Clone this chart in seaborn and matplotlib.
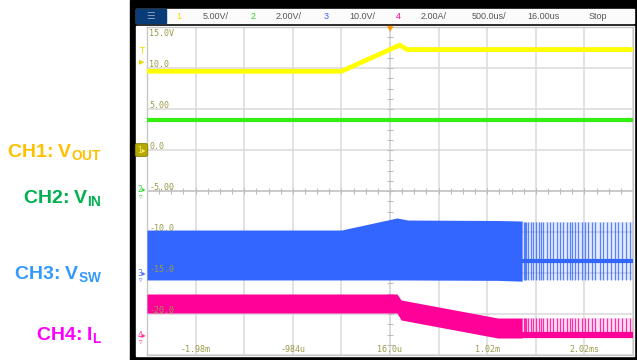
import matplotlib
matplotlib.use("Agg")
import matplotlib.pyplot as plt
from matplotlib.patches import Rectangle
import seaborn as sns

# ---------------- scope screen values (read off the capture) ----------------
# time axis in ms, vertical axis in CH1 volts (5 V/div, 8 divisions)
x_left_ms = -2.484
ms_per_div = 0.5
y_bottom = -25.0
v_per_div = 5.0

# CH1 Vout
vout_t = [-2.484, -0.484, 0.118, 0.19, 2.516]
vout_v = [9.6, 9.6, 12.8, 12.25, 12.25]

# CH2 Vin
vin_t = [-2.484, 2.516]
vin_v = [3.66, 3.66]

# CH3 Vsw envelope while switching continuously
vsw_t = [-2.484, -0.484, 0.088, 0.20, 1.126, 1.375]
vsw_top = [-9.76, -9.76, -8.29, -8.54, -8.60, -8.66]
vsw_bot = [-15.85, -15.85, -15.85, -15.85, -15.90, -16.0]

# CH4 IL envelope
il_t = [-2.484, 0.088, 0.13, 1.126, 1.375]
il_top = [-17.56, -17.56, -18.29, -20.49, -20.49]
il_bot = [-19.88, -19.88, -20.73, -22.93, -22.93]

# pulse-skipping burst after 1.375 ms
burst_start = 1.375
burst_t = [1.39, 1.40, 1.42, 1.44, 1.47, 1.49, 1.52, 1.55, 1.57, 1.59, 1.63,
           1.66, 1.69, 1.73, 1.77, 1.80, 1.84, 1.87, 1.89, 1.92, 1.95, 1.99,
           2.02, 2.05, 2.09, 2.13, 2.18, 2.21, 2.25, 2.29, 2.33, 2.36, 2.40,
           2.44, 2.48]
vsw_idle = -13.55
vsw_hi, vsw_lo = -8.78, -15.85
il_idle = -22.6
il_hi = -20.49

# grid labels
ylabel_vals = [15, 10, 5, 0, -5, -10, -15, -20]
ylabel_txt = ["15.0V", "10.0", "5.00", "0.0", "-5.00", "-10.0", "-15.0", "-20.0"]
tlabel_vals = [-1.984, -0.984, 0.016, 1.016, 2.016]
tlabel_txt = ["-1.98m", "-984u", "16.0u", "1.02m", "2.02ms"]

# status bar
bar_items = [("1", 179, "#e8e000"), ("5.00V/", 216, "#555555"),
             ("2", 253, "#33cc33"), ("2.00V/", 289, "#555555"),
             ("3", 326, "#3366ff"), ("10.0V/", 362, "#555555"),
             ("4", 398, "#ff0099"), ("2.00A/", 434, "#555555"),
             ("500.0us/", 489, "#555555"), ("16.00us", 543, "#555555"),
             ("Stop", 598, "#555555")]

# channel captions on the left
captions = [("CH1: V$_{\\mathrm{OUT}}$", 157, "#ffc000"),
            ("CH2: V$_{\\mathrm{IN}}$", 203, "#00b050"),
            ("CH3: V$_{\\mathrm{SW}}$", 279, "#3399ff"),
            ("CH4: I$_{\\mathrm{L}}$", 340, "#ff00ff")]

C_YEL, C_GRN, C_BLU, C_MAG = "#ffff00", "#33ee11", "#3366ff", "#ff0099"
C_OLIVE = "#9a9a48"

sns.set_style("white")
plt.rcParams["font.family"] = ["Liberation Sans", "DejaVu Sans"]
plt.rcParams["mathtext.fontset"] = "custom"
plt.rcParams["mathtext.rm"] = "Liberation Sans:bold"
plt.rcParams["mathtext.it"] = "Liberation Sans:bold"
plt.rcParams["mathtext.bf"] = "Liberation Sans:bold"

W, H = 637, 360
fig = plt.figure(figsize=(W / 100, H / 100), dpi=100, facecolor="white")


def fx(px):
    return px / W


def fy(py):
    return 1 - py / H


def rect(x0, y0, x1, y1, color, z):
    fig.patches.append(Rectangle((fx(x0), fy(y1)), fx(x1) - fx(x0), fy(y0) - fy(y1),
                                 transform=fig.transFigure, color=color, zorder=z))


# scope frame
rect(130, 0, 637, 360, "black", -5)
rect(136, 9, 634, 23, "#fbfbfb", -4)
rect(136, 26, 634, 356, "white", -4)
rect(136, 9, 166, 23, "#0a3d78", -3)
fig.text(fx(151), fy(16), "\u2630", color="#7f9cc0", fontsize=7, ha="center", va="center",
         family="DejaVu Sans")
for txt, px, col in bar_items:
    fig.text(fx(px), fy(16.5), txt, color=col, fontsize=6.5, ha="center", va="center")

ax = fig.add_axes([fx(147), fy(355), fx(633) - fx(147), fy(27) - fy(355)])
x_right = x_left_ms + 10 * ms_per_div
ax.set_xlim(x_left_ms, x_right)
ax.set_ylim(y_bottom, y_bottom + 8 * v_per_div)
ax.set_xticks([x_left_ms + k * ms_per_div for k in range(11)])
ax.set_yticks([y_bottom + k * v_per_div for k in range(9)])
ax.tick_params(length=0, labelbottom=False, labelleft=False)
ax.grid(True, color="#dadada", lw=1.1)
for s in ax.spines.values():
    s.set_color("#c8c8c8")
    s.set_linewidth(1.0)

# centre cross with minor ticks
xc = x_left_ms + 5 * ms_per_div
ax.axhline(-5, color="#c4c4c4", lw=1.1, zorder=1)
ax.axvline(xc, color="#dadada", lw=1.1, zorder=1)
minor_x = [x_left_ms + k * ms_per_div / 4 for k in range(41)]
minor_y = [y_bottom + k * v_per_div / 4 for k in range(33)]
ax.plot(minor_x, [-5] * len(minor_x), ls="none", marker="|", ms=4, mew=0.8, color="#bdbdbd", zorder=1)
ax.plot([xc] * len(minor_y), minor_y, ls="none", marker="_", ms=4, mew=0.8, color="#bdbdbd", zorder=1)

# CH3 switch node
ax.fill_between(vsw_t, vsw_bot, vsw_top, color=C_BLU, lw=0, zorder=3)
ax.fill_between([burst_start, x_right], vsw_lo, vsw_hi, color=C_BLU, alpha=0.12, lw=0, zorder=3)
ax.vlines(burst_t, vsw_lo, vsw_hi, color=C_BLU, lw=0.9, alpha=0.8, zorder=3)
sns.lineplot(x=[burst_start, x_right], y=[vsw_idle, vsw_idle], color=C_BLU, lw=3.0, ax=ax, zorder=3)

# CH4 inductor current
ax.fill_between(il_t, il_bot, il_top, color=C_MAG, lw=0, zorder=3)
ax.fill_between([burst_start, x_right], il_idle, il_hi, color=C_MAG, alpha=0.12, lw=0, zorder=3)
ax.vlines(burst_t, il_idle, il_hi, color=C_MAG, lw=0.9, alpha=0.8, zorder=3)
sns.lineplot(x=[burst_start, x_right], y=[il_idle, il_idle], color=C_MAG, lw=4.5, ax=ax, zorder=3)

# CH1 / CH2
sns.lineplot(x=vin_t, y=vin_v, color=C_GRN, lw=3.0, ax=ax, zorder=4)
sns.lineplot(x=vout_t, y=vout_v, color=C_YEL, lw=3.4, ax=ax, zorder=4)
ax.set_xlabel("")
ax.set_ylabel("")

# graticule labels
mono = "DejaVu Sans Mono"
for v, t in zip(ylabel_vals, ylabel_txt):
    if v == 15:
        ax.annotate(t, (x_left_ms, v), xytext=(1.5, -1.5), textcoords="offset points",
                    ha="left", va="top", fontsize=6, color=C_OLIVE, family=mono, zorder=6)
    else:
        ax.annotate(t, (x_left_ms, v), xytext=(1.5, -0.5), textcoords="offset points",
                    ha="left", va="bottom", fontsize=6, color=C_OLIVE, family=mono, zorder=6)
for v, t in zip(tlabel_vals, tlabel_txt):
    ax.annotate(t, (v, y_bottom), xytext=(0, 0.5), textcoords="offset points",
                ha="center", va="bottom", fontsize=6, color=C_OLIVE, family=mono, zorder=6)

# trigger markers
fig.text(fx(390.5), fy(28.5), "\u25bc", color="#ff9900", fontsize=6, ha="center", va="center",
         family="DejaVu Sans")
fig.text(fx(142), fy(52), "T", color="#e8e000", fontsize=6, ha="center", va="center", family="DejaVu Sans")
fig.text(fx(142), fy(62), "\u25b6", color="#e8d800", fontsize=5, ha="center", va="center", family="DejaVu Sans")

# channel ground markers at left edge
fig.text(fx(141.5), fy(150), "1\u25b8", color="#f4ee70", fontsize=5.5, ha="center", va="center",
         family="DejaVu Sans",
         bbox=dict(boxstyle="round,pad=0.25", fc="#b5a800", ec="#8a8000", lw=0.6))
for lab, py, col in [("2", 190, "#33dd33"), ("3", 273, "#4f6fff"), ("4", 335, "#ff3399")]:
    fig.text(fx(142), fy(py), lab + "\u25b8", color=col, fontsize=5.5, ha="center", va="center",
             family="DejaVu Sans")
    fig.text(fx(140.5), fy(py + 7), "\u25bf", color=col, fontsize=5, ha="center", va="center",
             family="DejaVu Sans")

# captions
for txt, py, col in captions:
    fig.text(fx(102), fy(py), txt, color=col, fontsize=14, fontweight="bold",
             ha="right", va="baseline")

fig.savefig("out.png", dpi=100)
